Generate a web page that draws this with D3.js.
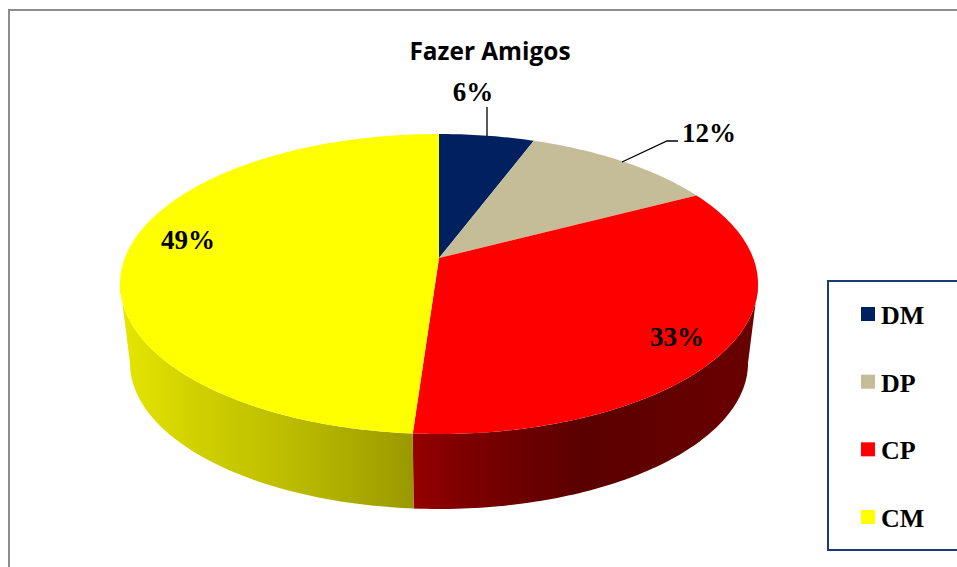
<!DOCTYPE html>
<html>
<head>
<meta charset="utf-8">
<script src="https://cdn.jsdelivr.net/npm/d3@7/dist/d3.min.js"></script>
<style>
html,body{margin:0;padding:0;background:#fff;overflow:hidden}
svg{display:block}
</style>
</head>
<body>
<svg id="chart" width="957" height="567"></svg>
<script>
const chartTitle = "Fazer Amigos";
const categories = ["DM", "DP", "CP", "CM"];
const values = [5.7, 11.6, 33.8, 48.9];
const percentLabels = ["6%", "12%", "33%", "49%"];
const sliceColors = ["#002060", "#C4BD97", "#FF0000", "#FFFF00"];

const svg = d3.select("#chart");
const defs = svg.append("defs");

// Tilted disc: top and bottom rims are ellipses, with perspective
const topRim = {cx: 439, cy: 284, rx: 319, ry: 150};
const bottomRim = {cx: 439, cy: 363, rx: 309, ry: 146};
const k = 0.173, s = Math.sqrt(1 - k * k);
const project = (rim, a) => {
  const d = 1 + k * Math.cos(a);
  return [rim.cx + rim.rx * s * Math.sin(a) / d,
          rim.cy - rim.ry * (Math.cos(a) + k) / d];
};
const apex = [topRim.cx, topRim.cy - topRim.ry * k];
const line = d3.line();
const arcPts = (rim, a0, a1) => {
  const n = Math.max(2, Math.ceil(Math.abs(a1 - a0) * 60));
  return d3.range(n + 1).map(i => project(rim, a0 + (a1 - a0) * i / n));
};

const pie = d3.pie().sort(null).value(d => d)(values);
const frontStart = Math.acos(-k), frontEnd = 2 * Math.PI - frontStart;

// side-wall gradients
const wallStops = {
  2: [[414, "#950000"], [470, "#7c0000"], [585, "#5a0000"], [757, "#6a0000"]],
  3: [[120, "#e6e600"], [200, "#cfcf00"], [290, "#bcbc00"], [414, "#999900"]]
};
Object.entries(wallStops).forEach(([i, stops]) => {
  const g = defs.append("linearGradient").attr("id", "wall" + i)
    .attr("gradientUnits", "userSpaceOnUse")
    .attr("x1", stops[0][0]).attr("x2", stops[stops.length - 1][0])
    .attr("y1", 0).attr("y2", 0);
  const x0 = stops[0][0], w = stops[stops.length - 1][0] - x0;
  stops.forEach(st => g.append("stop").attr("offset", (st[0] - x0) / w).attr("stop-color", st[1]));
});

// walls
pie.forEach((d, i) => {
  const a0 = Math.max(d.startAngle, frontStart), a1 = Math.min(d.endAngle, frontEnd);
  if (a1 <= a0) return;
  const pts = arcPts(topRim, a0, a1).concat(arcPts(bottomRim, a1, a0));
  svg.append("path").attr("d", line(pts) + "Z").attr("fill", `url(#wall${i})`);
});

// top face
pie.forEach((d, i) => {
  const pts = [apex].concat(arcPts(topRim, d.startAngle, d.endAngle));
  svg.append("path").attr("d", line(pts) + "Z").attr("fill", sliceColors[i]);
});

// outer chart frame
svg.append("path").attr("d", "M957,10 H9 V567")
  .attr("fill", "none").attr("stroke", "#8c8c8c").attr("stroke-width", 2);

// title
svg.append("text").text(chartTitle).attr("x", 490).attr("y", 59.5)
  .attr("text-anchor", "middle")
  .attr("font-family", "'Open Sans', Lato, sans-serif")
  .attr("font-weight", 700).attr("font-size", 24.4).attr("fill", "#000");

// leaders
svg.append("path").attr("d", "M487,107 V136").attr("fill", "none").attr("stroke", "#000").attr("stroke-width", 1.3);
svg.append("path").attr("d", "M622,162 L667,141 H678").attr("fill", "none").attr("stroke", "#000").attr("stroke-width", 1.3);

// percent labels
const labelPos = [[473, 101], [709, 142], [677, 346], [188, 249]];
const serif = "'Liberation Serif', 'Times New Roman', serif";
percentLabels.forEach((t, i) => {
  svg.append("text").text(t).attr("x", labelPos[i][0]).attr("y", labelPos[i][1])
    .attr("text-anchor", "middle").attr("font-family", serif)
    .attr("font-weight", 700).attr("font-size", 27).attr("fill", "#000");
});

// legend
svg.append("path").attr("d", "M957,281 H828 V550 H957")
  .attr("fill", "#fff").attr("stroke", "#1c3a78").attr("stroke-width", 2);
const legendY = d3.scalePoint().domain(categories).range([314, 517]);
categories.forEach((c, i) => {
  const y = legendY(c);
  svg.append("rect").attr("x", 861).attr("y", y - 7).attr("width", 14).attr("height", 14).attr("fill", sliceColors[i]);
  svg.append("text").text(c).attr("x", 881).attr("y", y + 10)
    .attr("font-family", serif).attr("font-weight", 700).attr("font-size", 26).attr("fill", "#000");
});
</script>
</body>
</html>
